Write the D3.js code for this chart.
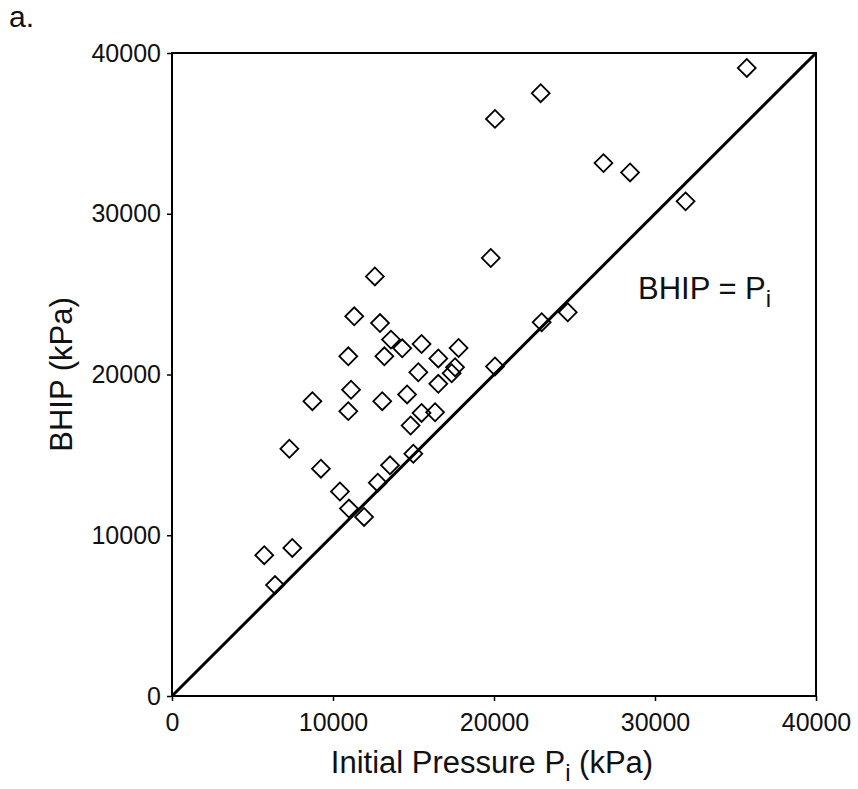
<!DOCTYPE html>
<html>
<head>
<meta charset="utf-8">
<script src="https://cdn.jsdelivr.net/npm/d3@7"></script>
<style>
  html, body { margin: 0; padding: 0; background: #fff; }
  svg { display: block; font-family: "Liberation Sans", Arial, Helvetica, sans-serif; }
</style>
</head>
<body>
<svg id="chart" width="858" height="789"></svg>
<script>
// Initial pressure Pi (kPa)
const initialPressure = [
  35700, 22900, 20060, 26800, 28450, 31900, 19800, 24580, 22960,
  12600, 11320, 12920, 13600, 14300, 15500, 17800, 10950, 13190,
  16540, 20060, 15300, 17580, 17370, 16540, 11120, 8720, 13060,
  14600, 10950, 15500, 16340, 14820, 7290, 9250, 13540, 14990,
  12780, 10430, 10990, 11930, 5730, 7470, 6400
];
// BHIP (kPa)
const bhip = [
  39070, 37500, 35900, 33150, 32570, 30770, 27250, 23870, 23250,
  26100, 23620, 23200, 22170, 21630, 21900, 21650, 21130, 21130,
  21000, 20500, 20140, 20450, 20080, 19420, 19050, 18340, 18340,
  18760, 17720, 17610, 17650, 16830, 15380, 14140, 14350, 15070,
  13270, 12720, 11660, 11140, 8760, 9210, 6900
];
const tickValues = [0, 10000, 20000, 30000, 40000];
const identityLine = [0, 40000];

(function () {
const svg = d3.select("#chart");
const mLeft = 172, mRight = 816, mTop = 53, mBottom = 696;

const x = d3.scaleLinear().domain([0, 40000]).range([mLeft, mRight]);
const y = d3.scaleLinear().domain([0, 40000]).range([mBottom, mTop]);

const ink = "#111";

// panel label
svg.append("text").attr("x", 9).attr("y", 27)
  .attr("font-size", 30).attr("fill", ink).text("a.");

// identity line BHIP = Pi
svg.append("line")
  .attr("x1", x(identityLine[0])).attr("y1", y(identityLine[0]))
  .attr("x2", x(identityLine[1])).attr("y2", y(identityLine[1]))
  .attr("stroke", "#000").attr("stroke-width", 3);

// frame
svg.append("rect")
  .attr("x", mLeft).attr("y", mTop)
  .attr("width", mRight - mLeft).attr("height", mBottom - mTop)
  .attr("fill", "none").attr("stroke", "#000").attr("stroke-width", 2);

// axes
const xAxis = d3.axisBottom(x).tickValues(tickValues).tickSize(5).tickPadding(12)
  .tickFormat(d3.format("d"));
const yAxis = d3.axisLeft(y).tickValues(tickValues).tickSize(5).tickPadding(6)
  .tickFormat(d3.format("d"));

const gx = svg.append("g").attr("transform", `translate(0,${mBottom})`).call(xAxis);
const gy = svg.append("g").attr("transform", `translate(${mLeft},0)`).call(yAxis);
[gx, gy].forEach(g => {
  g.attr("font-size", 25).attr("font-family", "Liberation Sans, Arial, sans-serif");
  g.select(".domain").remove();
  g.selectAll(".tick line").attr("stroke", "#000").attr("stroke-width", 1.5);
  g.selectAll(".tick text").attr("fill", ink);
});

// points (open diamonds)
const pts = initialPressure.map((p, i) => ({ p, b: bhip[i] }));
const diamond = d3.symbol().type(d3.symbolSquare).size(160);
svg.append("g").selectAll("path").data(pts).join("path")
  .attr("d", diamond)
  .attr("transform", d => `translate(${x(d.p)},${y(d.b)}) rotate(45)`)
  .attr("fill", "none").attr("stroke", "#000").attr("stroke-width", 1.8);

// annotation
const ann = svg.append("text").attr("x", 638).attr("y", 299)
  .attr("font-size", 31).attr("fill", ink);
ann.append("tspan").text("BHIP = P");
ann.append("tspan").attr("font-size", 24).attr("dy", 8).text("i");

// axis titles
const xt = svg.append("text").attr("x", (mLeft + mRight) / 2 - 2).attr("y", 773)
  .attr("text-anchor", "middle").attr("font-size", 31).attr("fill", ink);
xt.append("tspan").text("Initial Pressure P");
xt.append("tspan").attr("font-size", 24).attr("dy", 8).text("i");
xt.append("tspan").attr("dy", -8).text(" (kPa)");

svg.append("text")
  .attr("transform", `translate(72,${(mTop + mBottom) / 2}) rotate(-90)`)
  .attr("text-anchor", "middle").attr("font-size", 31).attr("fill", ink)
  .text("BHIP (kPa)");
})();
</script>
</body>
</html>
